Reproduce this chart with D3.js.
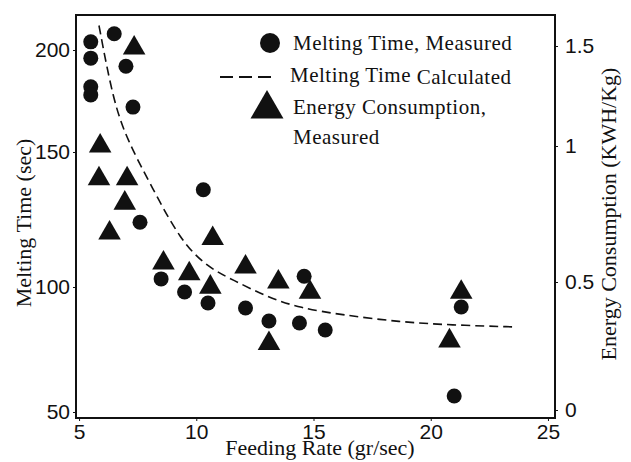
<!DOCTYPE html>
<html>
<head>
  <script src="https://d3js.org/d3.v7.min.js"></script>
  <style>
    body { margin: 0; background: #fff; }
    .chart { font-family: "Liberation Serif", "Times New Roman", serif; }
    .axis text { font-size: 21px; fill: #111; }
    .axis line { stroke: #111; }
    .axis path { display: none; }
    .axis-label { font-size: 22px; fill: #111; }
    .legend text { font-size: 21px; letter-spacing: 0.5px; fill: #111; }
  </style>
</head>
<body>
  <div id="chart"></div>
  <script>
    // melting time, measured (sec)
    const meltRate = [5.5, 5.5, 5.5, 5.5, 6.5, 7.0, 7.3, 10.3, 7.6, 8.5, 9.5, 10.5, 12.1, 13.1, 14.6, 14.4, 15.5, 21.3, 21.0];
    const meltTime = [204, 196, 182, 178, 208, 192, 172, 136, 124, 103, 98, 93.6, 91.6, 86.4, 104, 85.6, 82.8, 92, 56.4];

    // energy consumption, measured (KWH/Kg)
    const energyRate = [7.35, 5.9, 5.85, 7.05, 6.95, 6.3, 10.7, 8.6, 9.7, 10.6, 12.1, 13.5, 14.85, 13.1, 21.3, 20.8];
    const energyUse = [1.49, 1.0, 0.88, 0.88, 0.79, 0.68, 0.66, 0.57, 0.53, 0.48, 0.555, 0.5, 0.46, 0.26, 0.46, 0.27];

    // melting time, calculated (dashed curve)
    const calcRate = [5.85, 6.45, 7.05, 8.11, 9.31, 10.46, 11.57, 13.02, 14.42, 16.26, 18.69, 20.82, 23.68];
    const calcTime = [212, 175.5, 155.9, 137, 117.4, 107.4, 102.6, 96, 91.6, 88.8, 86, 84.8, 84];

    const rateTicks = [5, 10, 15, 20, 25];
    const timeTicks = [50, 100, 150, 200];
    const energyTicks = [0, 0.5, 1, 1.5];

    const width = 631, height = 462;
    const box = { left: 76, right: 555, top: 15, bottom: 418 };

    const svg = d3.select("#chart")
      .append("svg")
        .attr("class", "chart")
        .attr("width", width)
        .attr("height", height);

    const x = d3.scaleLinear()
      .domain([4.87, 25.3])
      .range([box.left, box.right]);

    // the scanned axes are not evenly spaced, so use piecewise scales
    const yTime = d3.scaleLinear()
      .domain(timeTicks)
      .range([412, 287, 152, 50]);

    const yEnergy = d3.scaleLinear()
      .domain(energyTicks)
      .range([410, 282, 146, 46]);

    // axes
    svg.append("g")
      .attr("class", "axis")
      .attr("transform", `translate(0,${box.bottom})`)
      .call(d3.axisBottom(x).tickValues(rateTicks).tickSize(3).tickPadding(3));

    svg.append("g")
      .attr("class", "axis")
      .attr("transform", `translate(${box.left},0)`)
      .call(d3.axisLeft(yTime).tickValues(timeTicks).tickSize(3).tickPadding(3));

    svg.append("g")
      .attr("class", "axis")
      .attr("transform", `translate(${box.right},0)`)
      .call(d3.axisRight(yEnergy).tickValues(energyTicks).tickSize(3).tickPadding(7)
        .tickFormat(d => d));

    // frame
    svg.append("rect")
      .attr("x", box.left)
      .attr("y", box.top)
      .attr("width", box.right - box.left)
      .attr("height", box.bottom - box.top)
      .attr("fill", "none")
      .attr("stroke", "#111")
      .attr("stroke-width", 2);

    // axis labels
    svg.append("text")
      .attr("class", "axis-label")
      .attr("text-anchor", "middle")
      .attr("x", 320)
      .attr("y", 455)
      .text("Feeding Rate (gr/sec)");

    svg.append("text")
      .attr("class", "axis-label")
      .attr("text-anchor", "middle")
      .attr("transform", "translate(31,223) rotate(-90)")
      .text("Melting Time (sec)");

    svg.append("text")
      .attr("class", "axis-label")
      .attr("text-anchor", "middle")
      .attr("transform", "translate(616,214) rotate(-90)")
      .text("Energy Consumption (KWH/Kg)");

    // calculated curve
    const calc = calcRate.map((r, i) => [r, calcTime[i]]);
    svg.append("path")
      .datum(calc)
      .attr("fill", "none")
      .attr("stroke", "#111")
      .attr("stroke-width", 1.6)
      .attr("stroke-dasharray", "9,5")
      .attr("d", d3.line()
        .x(d => x(d[0]))
        .y(d => yTime(d[1]))
        .curve(d3.curveBasis));

    // measured melting time
    svg.append("g")
      .selectAll("circle")
      .data(meltRate.map((r, i) => [r, meltTime[i]]))
      .enter().append("circle")
        .attr("cx", d => x(d[0]))
        .attr("cy", d => yTime(d[1]))
        .attr("r", 7.5)
        .attr("fill", "#111");

    // measured energy
    const tri = d3.symbol().type(d3.symbolTriangle).size(220);
    svg.append("g")
      .selectAll("path")
      .data(energyRate.map((r, i) => [r, energyUse[i]]))
      .enter().append("path")
        .attr("transform", d => `translate(${x(d[0])},${yEnergy(d[1])})`)
        .attr("d", tri)
        .attr("fill", "#111");

    // legend
    const legend = svg.append("g").attr("class", "legend");

    legend.append("circle")
      .attr("cx", 270)
      .attr("cy", 43)
      .attr("r", 10)
      .attr("fill", "#111");

    legend.append("line")
      .attr("x1", 220)
      .attr("x2", 272)
      .attr("y1", 77)
      .attr("y2", 77)
      .attr("stroke", "#111")
      .attr("stroke-width", 2)
      .attr("stroke-dasharray", "13,6");

    legend.append("path")
      .attr("transform", "translate(267,109)")
      .attr("d", d3.symbol().type(d3.symbolTriangle).size(470))
      .attr("fill", "#111");

    legend.append("text")
      .attr("x", 293)
      .attr("y", 43)
      .attr("dy", "0.35em")
      .text("Melting Time, Measured");

    const calcLabel = legend.append("text")
      .attr("x", 290)
      .attr("y", 75)
      .attr("dy", "0.35em");
    calcLabel.append("tspan").text("Melting Time ");
    calcLabel.append("tspan").attr("dy", 2).text("Calculated");

    legend.append("text")
      .attr("x", 293)
      .attr("y", 107)
      .attr("dy", "0.35em")
      .text("Energy Consumption,");

    legend.append("text")
      .attr("x", 293)
      .attr("y", 137)
      .attr("dy", "0.35em")
      .text("Measured");
  </script>
</body>
</html>
